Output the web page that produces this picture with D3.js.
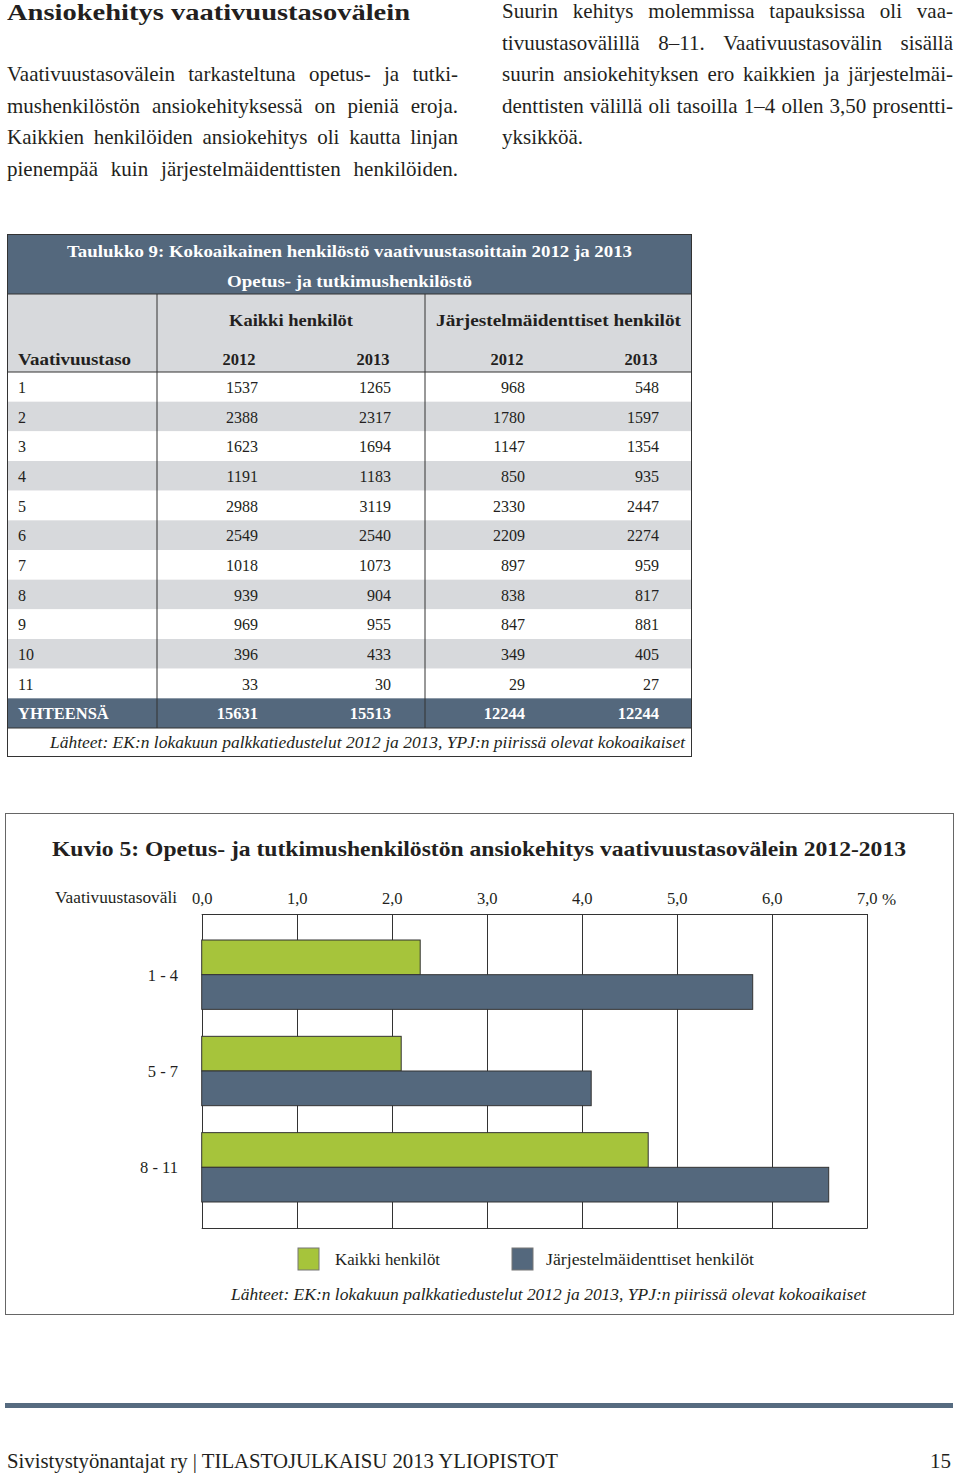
<!DOCTYPE html>
<html>
<head>
<meta charset="utf-8">
<script src="https://cdn.jsdelivr.net/npm/d3@7"></script>
<style>
  body { margin: 0; background: #fff; }
  text { font-family: "Liberation Serif", "DejaVu Serif", serif; fill: #231f20; }
</style>
</head>
<body>
<div id="app"></div>
<script>
// table 9 values
const levels = ["1", "2", "3", "4", "5", "6", "7", "8", "9", "10", "11"];
const kaikki2012 = [1537, 2388, 1623, 1191, 2988, 2549, 1018, 939, 969, 396, 33];
const kaikki2013 = [1265, 2317, 1694, 1183, 3119, 2540, 1073, 904, 955, 433, 30];
const jarj2012 = [968, 1780, 1147, 850, 2330, 2209, 897, 838, 847, 349, 29];
const jarj2013 = [548, 1597, 1354, 935, 2447, 2274, 959, 817, 881, 405, 27];
const totals = [15631, 15513, 12244, 12244];
const years = ["2012", "2013", "2012", "2013"];

// figure 5 values (%)
const groups = ["1 - 4", "5 - 7", "8 - 11"];
const series = ["Kaikki henkilöt", "Järjestelmäidenttiset henkilöt"];
const kaikkiGrowth = [2.3, 2.1, 4.7];
const jarjGrowth = [5.8, 4.1, 6.6];
const xTicks = [0, 1, 2, 3, 4, 5, 6, 7];

const leftText = [
  "Vaativuustasovälein tarkasteltuna opetus- ja tutki-",
  "mushenkilöstön ansiokehityksessä on pieniä eroja.",
  "Kaikkien henkilöiden ansiokehitys oli kautta linjan",
  "pienempää kuin järjestelmäidenttisten henkilöiden."
];
const rightText = [
  "Suurin kehitys molemmissa tapauksissa oli vaa-",
  "tivuustasovälillä 8–11. Vaativuustasovälin sisällä",
  "suurin ansiokehityksen ero kaikkien ja järjestelmäi-",
  "denttisten välillä oli tasoilla 1–4 ollen 3,50 prosentti-",
  "yksikköä."
];
const source = "Lähteet: EK:n lokakuun palkkatiedustelut 2012 ja 2013, YPJ:n piirissä olevat kokoaikaiset";

const slate = "#54687d", green = "#a6c43b", rowGray = "#d7d9dc", ink = "#231f20";

const svg = d3.select("#app").append("svg")
    .attr("width", 960)
    .attr("height", 1473);

svg.append("rect").attr("width", 960).attr("height", 1473).attr("fill", "#fff");

// squeeze or stretch a text to a given width
function fit(sel, w) {
  sel.attr("textLength", w).attr("lengthAdjust", "spacingAndGlyphs");
  return sel;
}

// justified paragraph line: place words with even gaps,
// squeeze the words a little when they don't fit
function justify(g, line, x0, x1, y, size, last) {
  var words = line.split(" ");
  var nodes = words.map(function(w) {
    return g.append("text").attr("y", y).attr("font-size", size).text(w);
  });
  var widths = nodes.map(function(n) { return n.node().getComputedTextLength(); });
  var sum = d3.sum(widths);
  var minGap = size * 0.22;
  var n = words.length;
  var gap;
  if (last) {
    gap = size * 0.25;
  } else if (sum + minGap * (n - 1) > x1 - x0) {
    var k = (x1 - x0 - minGap * (n - 1)) / sum;
    widths = widths.map(function(w) { return w * k; });
    nodes.forEach(function(nd, i) { fit(nd, widths[i]); });
    gap = minGap;
  } else {
    gap = (x1 - x0 - sum) / Math.max(1, n - 1);
  }
  var x = x0;
  nodes.forEach(function(nd, i) {
    nd.attr("x", x);
    x += widths[i] + gap;
  });
}

// ---- heading and body text
fit(svg.append("text")
    .attr("x", 7).attr("y", 20)
    .attr("font-size", 24).attr("font-weight", "bold")
    .text("Ansiokehitys vaativuustasovälein"), 403);

var body = svg.append("g");
leftText.forEach(function(l, i) { justify(body, l, 7, 458, 81 + i * 31.5, 21, false); });
rightText.forEach(function(l, i) {
  justify(body, l, 502, 953, 18 + i * 31.5, 21, i === rightText.length - 1);
});

// ---- table 9
var tL = 7, tR = 692, c1 = 157, c2 = 425;
var valueRight = [258, 391, 525, 659];
var yearCenter = [239, 373, 507, 641];

var rowKeys = levels.concat(["YHTEENSÄ"]);
var yRow = d3.scaleBand().domain(rowKeys).range([372, 728]);

var table = svg.append("g").attr("class", "table");

table.append("rect").attr("x", tL).attr("y", 234).attr("width", tR - tL).attr("height", 60).attr("fill", slate);
table.append("rect").attr("x", tL).attr("y", 294).attr("width", tR - tL).attr("height", 78).attr("fill", rowGray);

fit(table.append("text")
    .attr("x", (tL + tR) / 2).attr("y", 256.5).attr("text-anchor", "middle")
    .attr("font-size", 16.5).attr("font-weight", "bold").style("fill", "#fff")
    .text("Taulukko 9: Kokoaikainen henkilöstö vaativuustasoittain 2012 ja 2013"), 565);
fit(table.append("text")
    .attr("x", (tL + tR) / 2).attr("y", 286.5).attr("text-anchor", "middle")
    .attr("font-size", 16.5).attr("font-weight", "bold").style("fill", "#fff")
    .text("Opetus- ja tutkimushenkilöstö"), 245);

fit(table.append("text")
    .attr("x", (c1 + c2) / 2).attr("y", 325.5).attr("text-anchor", "middle")
    .attr("font-size", 16.5).attr("font-weight", "bold")
    .text("Kaikki henkilöt"), 124);
fit(table.append("text")
    .attr("x", (c2 + tR) / 2).attr("y", 325.5).attr("text-anchor", "middle")
    .attr("font-size", 16.5).attr("font-weight", "bold")
    .text("Järjestelmäidenttiset henkilöt"), 245);
fit(table.append("text")
    .attr("x", 18).attr("y", 365)
    .attr("font-size", 16.5).attr("font-weight", "bold")
    .text("Vaativuustaso"), 113);
table.selectAll("text.year")
  .data(years)
  .join("text")
    .attr("class", "year")
    .attr("x", function(d, i) { return yearCenter[i]; })
    .attr("y", 365)
    .attr("text-anchor", "middle")
    .attr("font-size", 16.5).attr("font-weight", "bold")
    .text(function(d) { return d; });

// data rows
var rows = levels.map(function(l, i) {
  return { key: l, values: [kaikki2012[i], kaikki2013[i], jarj2012[i], jarj2013[i]], total: false };
});
rows.push({ key: "YHTEENSÄ", values: totals, total: true });

var row = table.selectAll("g.row")
  .data(rows)
  .join("g")
    .attr("class", "row")
    .attr("transform", function(d) { return "translate(0," + yRow(d.key) + ")"; });

row.append("rect")
    .attr("x", tL).attr("width", tR - tL)
    .attr("height", yRow.bandwidth())
    .attr("fill", function(d, i) { return d.total ? slate : (i % 2 ? rowGray : "#fff"); });

row.append("text")
    .attr("x", 18).attr("y", 21)
    .attr("font-size", d => d.total ? 16.5 : 16)
    .attr("font-weight", d => d.total ? "bold" : null)
    .style("fill", d => d.total ? "#fff" : ink)
    .text(d => d.key);

row.selectAll("text.val")
  .data(function(d) { return d.values.map(function(v) { return { v: v, total: d.total }; }); })
  .join("text")
    .attr("class", "val")
    .attr("x", function(d, i) { return valueRight[i]; })
    .attr("y", 21)
    .attr("text-anchor", "end")
    .attr("font-size", d => d.total ? 16.5 : 16)
    .attr("font-weight", d => d.total ? "bold" : null)
    .style("fill", d => d.total ? "#fff" : ink)
    .text(d => d.v);

// lines
table.append("line").attr("x1", tL).attr("x2", tR).attr("y1", 294).attr("y2", 294).attr("stroke", "#333");
table.append("line").attr("x1", tL).attr("x2", tR).attr("y1", 372).attr("y2", 372).attr("stroke", "#333");
[c1, c2].forEach(function(x) {
  table.append("line").attr("x1", x).attr("x2", x).attr("y1", 294).attr("y2", 728).attr("stroke", "#333");
});
table.append("line").attr("x1", tL).attr("x2", tR).attr("y1", 728).attr("y2", 728).attr("stroke", "#333");
table.append("rect")
    .attr("x", tL + 0.5).attr("y", 234.5).attr("width", tR - tL - 1).attr("height", 522)
    .attr("fill", "none").attr("stroke", "#333");

fit(table.append("text")
    .attr("x", 685).attr("y", 748).attr("text-anchor", "end")
    .attr("font-size", 16).attr("font-style", "italic")
    .text(source), 635);

// ---- figure 5
var fig = svg.append("g").attr("class", "figure");

fig.append("rect")
    .attr("x", 5.5).attr("y", 813.5).attr("width", 948).attr("height", 501)
    .attr("fill", "none").attr("stroke", "#666");

fit(fig.append("text")
    .attr("x", 52).attr("y", 856)
    .attr("font-size", 21.5).attr("font-weight", "bold")
    .text("Kuvio 5: Opetus- ja tutkimushenkilöstön ansiokehitys vaativuustasovälein 2012-2013"), 854);

var pTop = 914, pBot = 1228;
var x = d3.scaleLinear().domain([0, 7]).range([201.7, 866.7]);
var y = d3.scaleBand().domain(groups).range([pTop, pBot]).paddingInner(0.28).paddingOuter(0.27);
var ySub = d3.scaleBand().domain(series).range([0, y.bandwidth()]);

// grid
fig.append("g")
  .selectAll("line")
  .data(xTicks)
  .join("line")
    .attr("x1", d => Math.round(x(d)) + 0.5)
    .attr("x2", d => Math.round(x(d)) + 0.5)
    .attr("y1", pTop).attr("y2", pBot)
    .attr("stroke", "#333");
fig.append("line").attr("x1", x(0)).attr("x2", x(7) + 1).attr("y1", pTop + 0.5).attr("y2", pTop + 0.5).attr("stroke", "#333");
fig.append("line").attr("x1", x(0)).attr("x2", x(7) + 1).attr("y1", pBot + 0.5).attr("y2", pBot + 0.5).attr("stroke", "#333");

// top axis labels
var axis = fig.append("g")
    .attr("transform", "translate(0," + (pTop - 10) + ")")
    .call(d3.axisTop(x)
        .tickValues(xTicks)
        .tickSize(0)
        .tickPadding(0)
        .tickFormat(d => d3.format(".1f")(d).replace(".", ",")));
axis.select(".domain").remove();
axis.selectAll("text")
    .attr("font-family", null)
    .attr("font-size", 16.5)
    .attr("dy", 0)
    .style("fill", ink);

fig.append("text").attr("x", 882).attr("y", 905).attr("font-size", 17).text("%");
fit(fig.append("text")
    .attr("x", 55).attr("y", 903)
    .attr("font-size", 17)
    .text("Vaativuustasoväli"), 122);

// category labels
fig.append("g")
  .selectAll("text")
  .data(groups)
  .join("text")
    .attr("x", 178)
    .attr("y", d => y(d) + y.bandwidth() / 2 + 6)
    .attr("text-anchor", "end")
    .attr("font-size", 16.5)
    .text(d => d);

// bars
var barData = [];
groups.forEach(function(g, i) {
  barData.push({ group: g, s: series[0], v: kaikkiGrowth[i], c: green });
  barData.push({ group: g, s: series[1], v: jarjGrowth[i], c: slate });
});

fig.append("g")
  .selectAll("rect")
  .data(barData)
  .join("rect")
    .attr("x", x(0))
    .attr("y", d => y(d.group) + ySub(d.s))
    .attr("width", d => x(d.v) - x(0))
    .attr("height", ySub.bandwidth())
    .attr("fill", d => d.c)
    .attr("stroke", "#333")
    .attr("stroke-width", 1);

// legend
var legendX = [298, 512], legendTextX = [335, 546], legendW = [105, 208];
var leg = fig.selectAll("g.legend")
  .data(series)
  .join("g")
    .attr("class", "legend");
leg.append("rect")
    .attr("x", (d, i) => legendX[i])
    .attr("y", 1248)
    .attr("width", 21).attr("height", 22)
    .attr("fill", (d, i) => i ? slate : green)
    .attr("stroke", "#777");
leg.append("text")
    .attr("x", (d, i) => legendTextX[i])
    .attr("y", 1265)
    .attr("font-size", 16.5)
    .attr("textLength", (d, i) => legendW[i])
    .attr("lengthAdjust", "spacingAndGlyphs")
    .text(d => d);

fit(fig.append("text")
    .attr("x", 231).attr("y", 1300)
    .attr("font-size", 16.5).attr("font-style", "italic")
    .text(source), 635);

// ---- page footer
svg.append("rect").attr("x", 5).attr("y", 1403).attr("width", 948).attr("height", 5).attr("fill", "#566b80");
fit(svg.append("text")
    .attr("x", 7).attr("y", 1468)
    .attr("font-size", 21)
    .text("Sivistystyönantajat ry | TILASTOJULKAISU 2013 YLIOPISTOT"), 551);
svg.append("text")
    .attr("x", 951).attr("y", 1468).attr("text-anchor", "end")
    .attr("font-size", 21)
    .text("15");
</script>
</body>
</html>
